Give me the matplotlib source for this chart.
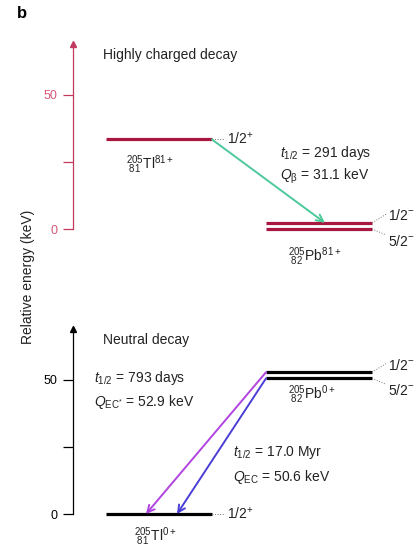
import numpy as np
import matplotlib
matplotlib.use("Agg")
import matplotlib.pyplot as plt

plt.rcParams['font.family'] = ['Liberation Sans', 'DejaVu Sans']
plt.rcParams['mathtext.fontset'] = 'custom'
plt.rcParams['mathtext.rm'] = 'Liberation Sans'
plt.rcParams['mathtext.it'] = 'Liberation Sans:italic'
plt.rcParams['mathtext.bf'] = 'Liberation Sans:bold'

# energies (keV)
hc_tl = 33.4          # 205Tl81+ ground state relative to Pb 5/2-
hc_pb = [2.3, 0.0]    # 205Pb81+ 1/2-, 5/2-
neu_tl = 0.0
neu_pb = [52.9, 50.6]
spins_pb = ['1/2$^{-}$', '5/2$^{-}$']
ticks = [0, 25, 50]
tick_labels = ['0', '', '50']

crimson = '#A8173F'
axcol = '#C2385E'
labcol = '#D4587A'
green = '#4CC99B'
magenta = '#B144E0'
blue = '#4B3ED6'
grey = '#777777'
txt = '#222222'
fs = 10

fig = plt.figure(figsize=(4.18, 5.48), dpi=100)
ax1 = fig.add_axes([0.1746, 0.5234, 0.8254, 0.4011])
ax2 = fig.add_axes([0.1746, 0.0033, 0.8254, 0.4011])

for ax, col, tcol in [(ax1, axcol, labcol), (ax2, 'black', 'black')]:
    ax.set_xlim(73, 418)
    ax.set_ylim(-12, 70)
    for s in ['top', 'right', 'bottom']:
        ax.spines[s].set_visible(False)
    ax.spines['left'].set_bounds(0, 68.5)
    ax.spines['left'].set_color(col)
    ax.spines['left'].set_linewidth(0.9)
    ax.set_xticks([])
    ax.set_yticks(ticks)
    ax.set_yticklabels(tick_labels)
    ax.tick_params(axis='y', colors=col, labelcolor=tcol, length=7, width=0.9,
                   labelsize=9, pad=4)
    ax.plot([73], [69], marker='^', color=col, markersize=4, clip_on=False)
    ax.patch.set_visible(False)


def spin_labels(ax, levels):
    ax.plot([372, 386], [levels[0], levels[0] + 3.2], color=grey, lw=0.7, ls=':')
    ax.plot([372, 386], [levels[1], levels[1] - 2.2], color=grey, lw=0.7, ls=':')
    ax.text(388, levels[0] + 2.6, spins_pb[0], fontsize=fs, va='center', color=txt)
    ax.text(388, levels[1] - 4.6, spins_pb[1], fontsize=fs, va='center', color=txt)


# highly charged decay
ax1.text(103, 64.9, 'Highly charged decay', fontsize=fs, va='center', color=txt)
ax1.plot([106, 212], [hc_tl, hc_tl], color=crimson, lw=2.3, solid_capstyle='butt')
for e in hc_pb:
    ax1.plot([266, 372], [e, e], color=crimson, lw=2.3, solid_capstyle='butt')
ax1.plot([212, 225], [hc_tl, hc_tl], color=grey, lw=0.7, ls=':')
ax1.text(227, hc_tl + 0.3, '1/2$^{+}$', fontsize=fs, va='center', color=txt)
spin_labels(ax1, hc_pb)
ax1.annotate('', xy=(325, hc_pb[0]), xytext=(212, hc_tl),
             arrowprops=dict(arrowstyle='->,head_length=0.5,head_width=0.25',
                             color=green, lw=1.4, shrinkA=0, shrinkB=0))
ax1.text(150, 24.0, r'${}^{205}_{\ 81}\mathrm{Tl}^{81+}$', fontsize=fs, ha='center',
         va='center', color=txt)
ax1.text(315, -10.5, r'${}^{205}_{\ 82}\mathrm{Pb}^{81+}$', fontsize=fs, ha='center',
         va='center', color=txt)
ax1.text(280, 28.4, r'$t_{1/2}$ = 291 days', fontsize=fs, va='center', color=txt)
ax1.text(280, 19.8, r'$Q_{\mathrm{β}}$ = 31.1 keV', fontsize=fs, va='center', color=txt)

# neutral decay
ax2.text(103, 64.9, 'Neutral decay', fontsize=fs, va='center', color=txt)
ax2.plot([106, 212], [neu_tl, neu_tl], color='black', lw=2.3, solid_capstyle='butt')
for e in neu_pb:
    ax2.plot([266, 372], [e, e], color='black', lw=2.3, solid_capstyle='butt')
ax2.plot([212, 225], [neu_tl, neu_tl], color=grey, lw=0.7, ls=':')
ax2.text(227, neu_tl + 0.3, '1/2$^{+}$', fontsize=fs, va='center', color=txt)
spin_labels(ax2, neu_pb)
ax2.annotate('', xy=(146, neu_tl), xytext=(266, neu_pb[0]),
             arrowprops=dict(arrowstyle='->,head_length=0.5,head_width=0.25',
                             color=magenta, lw=1.4, shrinkA=0, shrinkB=0))
ax2.annotate('', xy=(177, neu_tl), xytext=(266, neu_pb[1]),
             arrowprops=dict(arrowstyle='->,head_length=0.5,head_width=0.25',
                             color=blue, lw=1.4, shrinkA=0, shrinkB=0))
ax2.text(155, -8.6, r'${}^{205}_{\ 81}\mathrm{Tl}^{0+}$', fontsize=fs, ha='center',
         va='center', color=txt, clip_on=False)
ax2.text(312, 44.4, r'${}^{205}_{\ 82}\mathrm{Pb}^{0+}$', fontsize=fs, ha='center',
         va='center', color=txt)
ax2.text(94, 50.7, r'$t_{1/2}$ = 793 days', fontsize=fs, va='center', color=txt)
ax2.text(94, 41.8, r'$Q_{\mathrm{EC}^{*}}$ = 52.9 keV', fontsize=fs, va='center', color=txt)
ax2.text(233, 22.8, r'$t_{1/2}$ = 17.0 Myr', fontsize=fs, va='center', color=txt)
ax2.text(233, 13.8, r'$Q_{\mathrm{EC}}$ = 50.6 keV', fontsize=fs, va='center', color=txt)

fig.text(28 / 418, 1 - 277 / 548, 'Relative energy (keV)', rotation=90, fontsize=fs,
         ha='center', va='center', color=txt)
fig.text(22 / 418, 1 - 13 / 548, 'b', fontsize=12, fontweight='bold', ha='center',
         va='center')

fig.savefig('out.png', dpi=100)
